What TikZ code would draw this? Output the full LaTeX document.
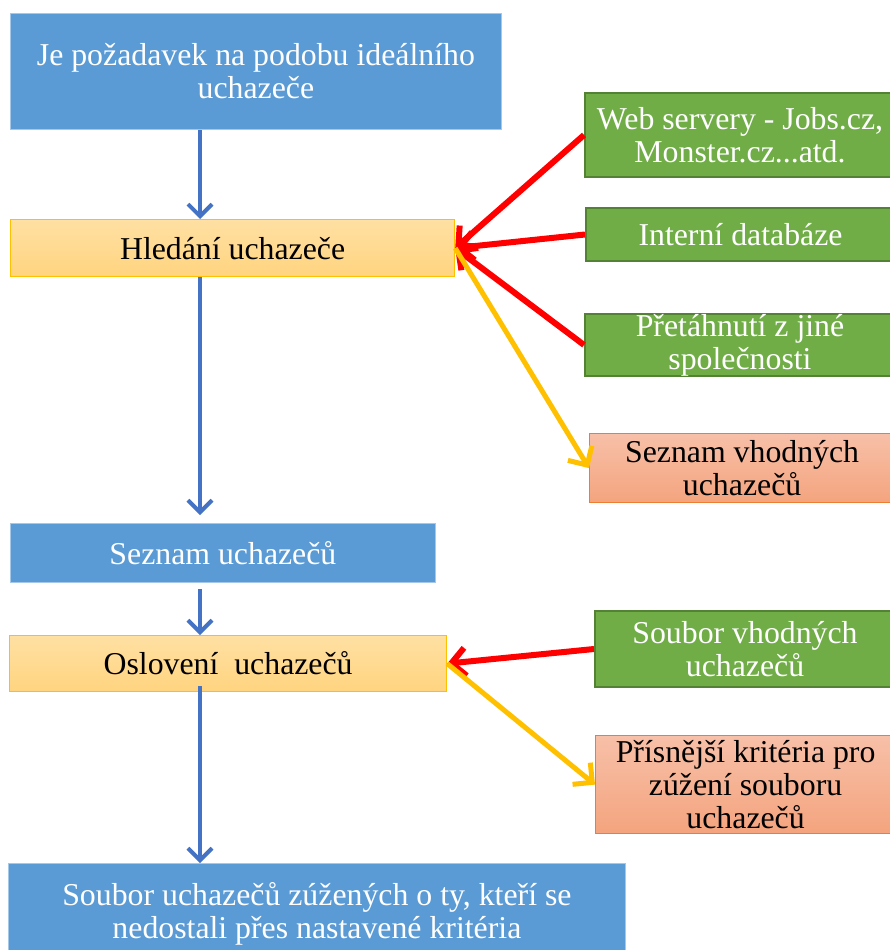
\documentclass[tikz,border=0pt]{standalone}
\usepackage{fontspec}
\setmainfont{Liberation Serif}
\usetikzlibrary{arrows.meta}

\definecolor{boxblue}{HTML}{5B9BD5}
\definecolor{flowblue}{HTML}{4472C4}
\definecolor{boxgreen}{HTML}{70AD47}
\definecolor{greenedge}{HTML}{548235}
\definecolor{goldedge}{HTML}{FFC000}
\definecolor{goldtop}{HTML}{FFE0A3}
\definecolor{goldbot}{HTML}{FFD47F}
\definecolor{salmontop}{HTML}{F7C0A8}
\definecolor{salmonbot}{HTML}{F4A47E}
\definecolor{salmonedge}{HTML}{ED7D31}
\definecolor{linkred}{HTML}{FF0000}
\definecolor{linkgold}{HTML}{FFC000}

\newcommand\boxfont{\fontsize{31.8}{33}\selectfont}

\begin{document}
\begin{tikzpicture}[x=1pt,y=-1pt,
  base/.style={rectangle, inner sep=0pt, align=center, anchor=north west, font=\boxfont},
  bluebox/.style={base, fill=boxblue, draw=boxblue!55!white, line width=0.8pt, text=white},
  goldbox/.style={base, top color=goldtop, bottom color=goldbot, draw=goldedge, line width=1.2pt, text=black},
  greenbox/.style={base, fill=boxgreen, draw=greenedge, line width=2pt, text=white},
  salmonbox/.style={base, top color=salmontop, bottom color=salmonbot, draw=salmonedge, line width=1.2pt, text=black},
  flow/.style={draw=flowblue, line width=4pt, -{Straight Barb[length=12pt,width=24pt]}},
  feed/.style={draw=linkred, line width=6pt, -{Straight Barb[length=14pt,width=28pt]}},
  outlink/.style={draw=linkgold, line width=5pt, -{Straight Barb[length=14pt,width=28pt]}}
]
\clip (0,0) rectangle (890,950);
\fill[white] (0,0) rectangle (890,950);

% main flow
\node[bluebox, minimum width=491pt, minimum height=116pt] (req) at (10,13)
  {Je požadavek na podobu ideálního\\uchazeče};
\node[goldbox, minimum width=444pt, minimum height=57pt] (search) at (10,219)
  {Hledání uchazeče};
\node[bluebox, minimum width=425pt, minimum height=59pt] (list) at (10,523)
  {Seznam uchazečů};
\node[goldbox, minimum width=437pt, minimum height=56pt] (contact) at (9,635)
  {Oslovení\ \ uchazečů};
\node[bluebox, minimum width=617pt, minimum height=100pt] (final) at (8,863)
  {Soubor uchazečů zúžených o ty, kteří se\\nedostali přes nastavené kritéria};

% sources and results on the right
\node[greenbox, minimum width=310pt, minimum height=84pt] (web) at (584,92)
  {Web servery - Jobs.cz,\\Monster.cz...atd.};
\node[greenbox, minimum width=309pt, minimum height=53pt] (db) at (585,207)
  {Interní databáze};
\node[greenbox, minimum width=310pt, minimum height=60pt] (poach) at (584,313)
  {Přetáhnutí z jiné\\společnosti};
\node[salmonbox, minimum width=305pt, minimum height=69pt] (fit) at (589,433)
  {Seznam vhodných\\uchazečů};
\node[greenbox, minimum width=300pt, minimum height=76pt] (pool) at (594,610)
  {Soubor vhodných\\uchazečů};
\node[salmonbox, minimum width=300pt, minimum height=98pt] (strict) at (595,735)
  {Přísnější kritéria pro\\zúžení souboru\\uchazečů};

% vertical flow arrows
\coordinate (spine) at (200,0);
\draw[flow] (req.south -| spine) -- (search.north -| spine);
\draw[flow, shorten >=8pt] (search.south -| spine) -- (list.north -| spine);
\draw[flow, shorten <=6pt] (list.south -| spine) -- (contact.north -| spine);
\draw[flow, shorten <=-6pt] (contact.south -| spine) -- (final.north -| spine);

% inputs and outputs
\draw[feed] (web.west) -- (search.east);
\draw[feed] (db.west) -- (search.east);
\draw[feed] (poach.west) -- (search.east);
\draw[outlink] (search.east) -- (fit.west);
\draw[feed] (pool.west) -- (contact.east);
\draw[outlink] (contact.east) -- (strict.west);
\end{tikzpicture}
\end{document}
